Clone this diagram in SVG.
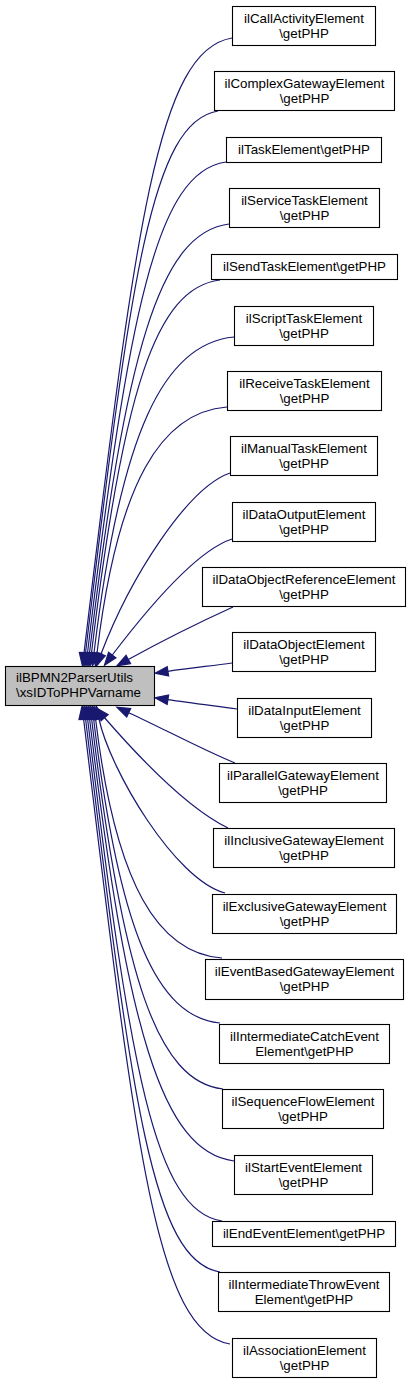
<svg xmlns="http://www.w3.org/2000/svg" width="411" height="1384" viewBox="0 0 411 1384">
<style>
.n rect{fill:#ffffff;stroke:#000000;stroke-width:1.1}
.m rect{fill:#bfbfbf;stroke:#000000;stroke-width:1.1}
text{font-family:"Liberation Sans",Arial,Helvetica,sans-serif;font-size:13.33px;fill:#000000}
.n text{text-anchor:middle}
.e path{fill:none;stroke:#191970;stroke-width:1.2}
.e polygon{fill:#191970;stroke:#191970;stroke-width:1.2}
</style>
<rect width="411" height="1384" fill="#ffffff"/>
<g id="edges" class="e">
<path d="M232,38 C158,50 135.7,222.5 84,653"/><polygon points="88.67,653.56 82.45,665.9 79.33,652.44"/>
<path d="M218,111 C151.75,121.8 131,273.6 85.5,653"/><polygon points="90.17,653.56 83.95,665.9 80.83,652.44"/>
<path d="M226,162 C156.75,171.8 128.7,309.3 87.5,653"/><polygon points="92.17,653.56 85.95,665.9 82.83,652.44"/>
<path d="M229,224 C159.25,232.6 125.5,352.7 89.5,653"/><polygon points="94.17,653.56 87.95,665.9 84.83,652.44"/>
<path d="M220,280 C155.75,287.5 122.8,391.9 91.5,653"/><polygon points="96.17,653.56 89.95,665.9 86.83,652.44"/>
<path d="M234,337 C164,343.3 120.5,431.8 94,653"/><polygon points="98.67,653.56 92.45,665.9 89.33,652.44"/>
<path d="M227,407 C162,411.9 117.7,480.8 97,653"/><polygon points="101.67,653.56 95.45,665.9 92.33,652.44"/>
<path d="M230,473 C187,488 130,578 101,654"/><polygon points="105.39,655.68 96.4,666.2 96.61,652.32"/>
<path d="M232,539 C195,551 145,612 112.3,655"/><polygon points="116.04,657.84 104.4,665.3 108.56,652.16"/>
<path d="M233,607 C200,622 160,642 128.3,659.5"/><polygon points="130.57,663.61 116.9,665.8 126.03,655.39"/>
<path d="M232,663 C210,666 190,668 167.9,671.3"/><polygon points="168.6,675.95 155.04,673.2 167.2,666.65"/>
<path d="M237,709 C215,706 190,703 167.9,699.7"/><polygon points="167.2,704.35 155.04,697.8 168.6,695.05"/>
<path d="M235,763 C205,751 160,727 128.7,712.7"/><polygon points="126.74,716.98 116.9,707.3 130.66,708.42"/>
<path d="M228,828 C195,812 150,770 104.6,717.75"/><polygon points="101.05,720.83 96.1,707.9 108.15,714.67"/>
<path d="M225,893 C175,880 110,770 99,719"/><polygon points="94.41,719.99 96.3,706.3 103.59,718.01"/>
<path d="M222,958 C158.8,953.2 115.7,886.3 95.6,719"/><polygon points="90.93,719.56 94.05,706.1 100.27,718.44"/>
<path d="M220,1023 C156.8,1016.9 119.1,931.8 93.6,719"/><polygon points="88.93,719.56 92.05,706.1 98.27,718.44"/>
<path d="M223,1089 C157.3,1081.6 122.7,978 91.6,719"/><polygon points="86.93,719.56 90.05,706.1 96.27,718.44"/>
<path d="M234,1161 C161.8,1152.2 126.7,1028.4 89.6,719"/><polygon points="84.93,719.56 88.05,706.1 94.27,718.44"/>
<path d="M222,1221 C154.8,1211 129.8,1070.4 87.6,719"/><polygon points="82.93,719.56 86.05,706.1 92.27,718.44"/>
<path d="M220,1272 C152.8,1260.9 132.1,1106.1 85.6,719"/><polygon points="80.93,719.56 84.05,706.1 90.27,718.44"/>
<path d="M230,1344 C156.8,1331.5 136.1,1156.5 83.6,719"/><polygon points="78.93,719.56 82.05,706.1 88.27,718.44"/>
</g>
<g id="main" class="m"><rect x="5.5" y="666.5" width="149" height="39"/><text x="16" y="682">ilBPMN2ParserUtils</text><text x="16" y="697">\xsIDToPHPVarname</text></g>
<g id="n1" class="n"><rect x="232.5" y="6.5" width="143" height="39"/><text x="304" y="22.5">ilCallActivityElement</text><text x="304" y="37.5">\getPHP</text></g>
<g id="n2" class="n"><rect x="214.5" y="71.5" width="180" height="39"/><text x="304.5" y="87.5">ilComplexGatewayElement</text><text x="304.5" y="102.5">\getPHP</text></g>
<g id="n3" class="n"><rect x="226.5" y="137.5" width="155" height="25"/><text x="304" y="154">ilTaskElement\getPHP</text></g>
<g id="n4" class="n"><rect x="229.5" y="188.5" width="150" height="39"/><text x="304.5" y="204.5">ilServiceTaskElement</text><text x="304.5" y="219.5">\getPHP</text></g>
<g id="n5" class="n"><rect x="211.5" y="254.5" width="186" height="25"/><text x="304.5" y="271">ilSendTaskElement\getPHP</text></g>
<g id="n6" class="n"><rect x="234.5" y="306.5" width="139" height="39"/><text x="304" y="322.5">ilScriptTaskElement</text><text x="304" y="337.5">\getPHP</text></g>
<g id="n7" class="n"><rect x="227.5" y="371.5" width="154" height="39"/><text x="304.5" y="387.5">ilReceiveTaskElement</text><text x="304.5" y="402.5">\getPHP</text></g>
<g id="n8" class="n"><rect x="230.5" y="436.5" width="147" height="39"/><text x="304" y="452.5">ilManualTaskElement</text><text x="304" y="467.5">\getPHP</text></g>
<g id="n9" class="n"><rect x="232.5" y="502.5" width="143" height="39"/><text x="304" y="518.5">ilDataOutputElement</text><text x="304" y="533.5">\getPHP</text></g>
<g id="n10" class="n"><rect x="202.5" y="567.5" width="203" height="39"/><text x="304" y="583.5">ilDataObjectReferenceElement</text><text x="304" y="598.5">\getPHP</text></g>
<g id="n11" class="n"><rect x="232.5" y="632.5" width="143" height="39"/><text x="304" y="648.5">ilDataObjectElement</text><text x="304" y="663.5">\getPHP</text></g>
<g id="n12" class="n"><rect x="237.5" y="698.5" width="134" height="39"/><text x="304.5" y="714.5">ilDataInputElement</text><text x="304.5" y="729.5">\getPHP</text></g>
<g id="n13" class="n"><rect x="219.5" y="763.5" width="167" height="39"/><text x="303" y="779.5">ilParallelGatewayElement</text><text x="303" y="794.5">\getPHP</text></g>
<g id="n14" class="n"><rect x="213.5" y="828.5" width="181" height="39"/><text x="304" y="844.5">ilInclusiveGatewayElement</text><text x="304" y="859.5">\getPHP</text></g>
<g id="n15" class="n"><rect x="212.5" y="894.5" width="184" height="39"/><text x="304.5" y="910.5">ilExclusiveGatewayElement</text><text x="304.5" y="925.5">\getPHP</text></g>
<g id="n16" class="n"><rect x="205.5" y="959.5" width="198" height="40"/><text x="304.5" y="975.5">ilEventBasedGatewayElement</text><text x="304.5" y="990.5">\getPHP</text></g>
<g id="n17" class="n"><rect x="219.5" y="1024.5" width="170" height="39"/><text x="304.5" y="1040.5">ilIntermediateCatchEvent</text><text x="304.5" y="1055.5">Element\getPHP</text></g>
<g id="n18" class="n"><rect x="222.5" y="1089.5" width="161" height="39"/><text x="303" y="1105.5">ilSequenceFlowElement</text><text x="303" y="1120.5">\getPHP</text></g>
<g id="n19" class="n"><rect x="234.5" y="1155.5" width="138" height="39"/><text x="303.5" y="1171.5">ilStartEventElement</text><text x="303.5" y="1186.5">\getPHP</text></g>
<g id="n20" class="n"><rect x="212.5" y="1221.5" width="183" height="25"/><text x="304" y="1238">ilEndEventElement\getPHP</text></g>
<g id="n21" class="n"><rect x="218.5" y="1272.5" width="171" height="39"/><text x="304" y="1288.5">ilIntermediateThrowEvent</text><text x="304" y="1303.5">Element\getPHP</text></g>
<g id="n22" class="n"><rect x="232.5" y="1338.5" width="144" height="39"/><text x="304.5" y="1354.5">ilAssociationElement</text><text x="304.5" y="1369.5">\getPHP</text></g>
</svg>
